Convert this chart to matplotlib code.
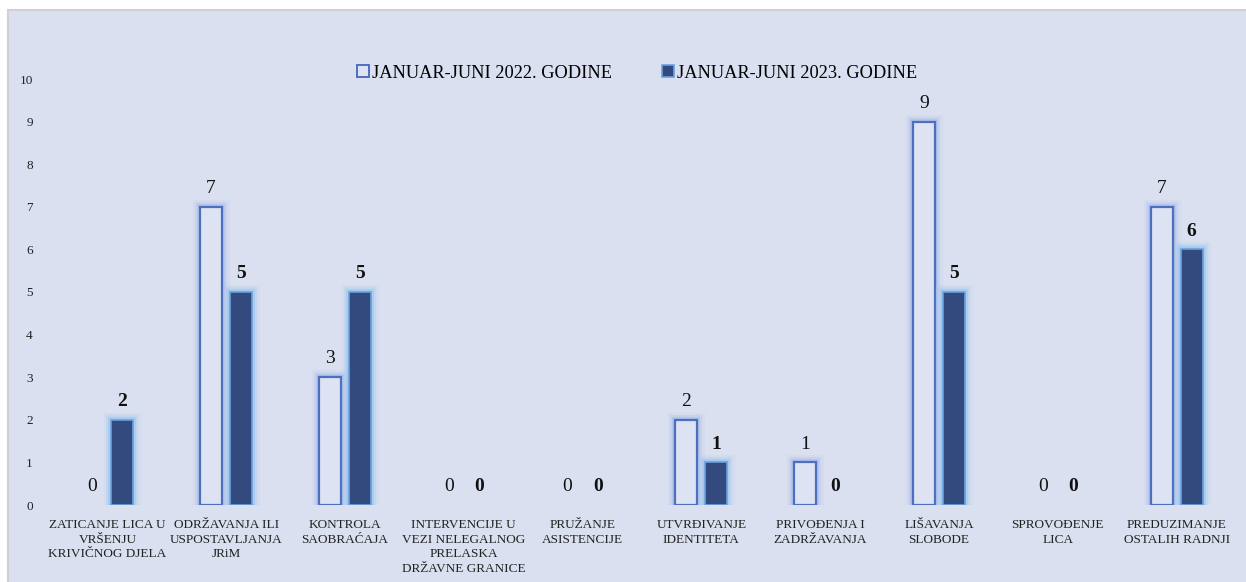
import matplotlib
matplotlib.use("Agg")
import matplotlib.pyplot as plt
import matplotlib.patheffects as pe
from matplotlib.patches import Rectangle
from matplotlib.lines import Line2D
import numpy as np

categories = [
    "ZATICANJE LICA U\nVRŠENJU\nKRIVIČNOG DJELA",
    "ODRŽAVANJA ILI\nUSPOSTAVLJANJA\nJRiM",
    "KONTROLA\nSAOBRAĆAJA",
    "INTERVENCIJE U\nVEZI NELEGALNOG\nPRELASKA\nDRŽAVNE GRANICE",
    "PRUŽANJE\nASISTENCIJE",
    "UTVRĐIVANJE\nIDENTITETA",
    "PRIVOĐENJA I\nZADRŽAVANJA",
    "LIŠAVANJA\nSLOBODE",
    "SPROVOĐENJE\nLICA",
    "PREDUZIMANJE\nOSTALIH RADNJI",
]
values_2022 = [0, 7, 3, 0, 0, 2, 1, 9, 0, 7]
values_2023 = [2, 5, 5, 0, 0, 1, 0, 5, 0, 6]
series_names = ["JANUAR-JUNI 2022. GODINE", "JANUAR-JUNI 2023. GODINE"]
yticks = list(range(0, 11))

FONT = ["Liberation Serif", "DejaVu Serif"]
plt.rcParams['font.family'] = FONT

BG = "#dae0f0"
W, H = 1246, 582
fig = plt.figure(figsize=(W / 100, H / 100), dpi=100)
fig.patch.set_facecolor("white")
bg = Rectangle((8 / W, -0.05), 1.1, 1.05 - 10 / H, transform=fig.transFigure,
               facecolor=BG, edgecolor="#d0d0d0", linewidth=1.5, zorder=-10)
fig.patches.append(bg)

left = 48 / W
right = 1236 / W
bottom = 1 - 505 / H
top = 1 - 79 / H
ax = fig.add_axes([left, bottom, right - left, top - bottom])
ax.set_facecolor("none")
ax.set_zorder(1)

x = np.arange(len(categories))
bw = 0.185
off = 0.127

glow1 = [pe.Stroke(linewidth=11, foreground="#b8c7eb", alpha=0.2),
         pe.Stroke(linewidth=7, foreground="#a9bbe7", alpha=0.3),
         pe.Stroke(linewidth=4, foreground="#9ab0e3", alpha=0.45), pe.Normal()]
glow2 = [pe.Stroke(linewidth=11, foreground="#aecdee", alpha=0.2),
         pe.Stroke(linewidth=7, foreground="#9ec6ee", alpha=0.3),
         pe.Stroke(linewidth=4, foreground="#8ebeee", alpha=0.45), pe.Normal()]

b1 = ax.bar(x - off, values_2022, width=bw, facecolor="#dde3f3", edgecolor="#4d6fbf", linewidth=1.6, zorder=3)
b2 = ax.bar(x + off, values_2023, width=bw, facecolor="#334a7f", edgecolor="#6aa2dc", linewidth=1.2, zorder=3)
for r, v in zip(b1, values_2022):
    if v > 0:
        r.set_path_effects(glow1)
    else:
        r.set_visible(False)
for r, v in zip(b2, values_2023):
    if v > 0:
        r.set_path_effects(glow2)
    else:
        r.set_visible(False)

for xi, v in zip(x, values_2022):
    ax.annotate(str(v), (xi - off, v), xytext=(0, 7), textcoords="offset points",
                ha="center", va="bottom", fontsize=14, color="#111111")
for xi, v in zip(x, values_2023):
    ax.annotate(str(v), (xi + off, v), xytext=(0, 7), textcoords="offset points",
                ha="center", va="bottom", fontsize=14, fontweight="bold", color="#111111")

ax.set_xlim(-0.5, len(categories) - 0.5)
ax.set_ylim(0, 10)
ax.set_yticks(yticks)
ax.set_yticklabels([str(t) for t in yticks], fontsize=9.5, color="#222222")
ax.set_xticks(x)
ax.set_xticklabels(categories, fontsize=9.5, color="#222222", linespacing=1.3)
ax.tick_params(axis="both", length=0)
ax.tick_params(axis="y", pad=11)
ax.tick_params(axis="x", pad=10)
for s in ax.spines.values():
    s.set_visible(False)

handles = [
    Line2D([], [], marker="s", linestyle="none", markersize=8, markerfacecolor="#dde3f3",
           markeredgecolor="#4d6fbf", markeredgewidth=1.4),
    Line2D([], [], marker="s", linestyle="none", markersize=8, markerfacecolor="#334a7f",
           markeredgecolor="#6aa2dc", markeredgewidth=1.2),
]
fig.legend(handles, series_names, loc="center", bbox_to_anchor=(637 / W, 1 - 73 / H), ncol=2,
           frameon=False, fontsize=13.2, handlelength=0.7, handletextpad=0.15, columnspacing=2.7,
           borderaxespad=0)

fig.savefig("out.png", dpi=100, facecolor=fig.get_facecolor())
